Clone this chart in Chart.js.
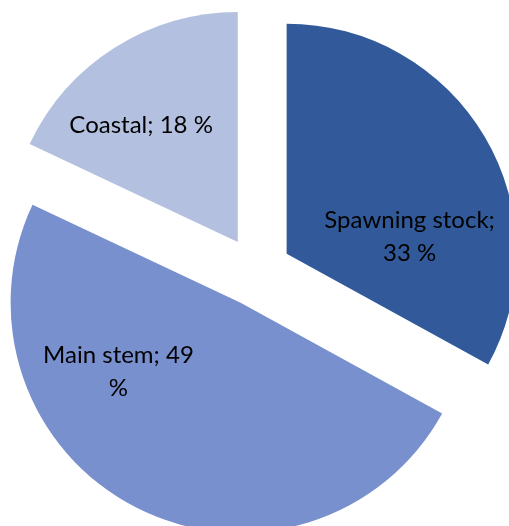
<!DOCTYPE html>
<html>
<head>
<meta charset="utf-8">
<script src="https://cdn.jsdelivr.net/npm/chart.js@4/dist/chart.umd.min.js"></script>
<style>
  html, body { margin: 0; padding: 0; background: #ffffff; overflow: hidden; }
  #wrap { position: relative; width: 509px; height: 526px; }
</style>
</head>
<body>
<div id="wrap"><canvas id="c"></canvas></div>
<script>
// ---- data ----
const categories = ['Spawning stock', 'Main stem', 'Coastal'];
const shares = [33, 49, 18];          // percent
const unit = '%';

// ---- styles ----
const sliceColors = ['#325A9A', '#7990CE', '#B4C0E0'];
const explodeDist = 35;               // px each slice is pulled out
const labelFont = '24px Lato';
const labelLineHeight = 33;
const labelWrapWidth = [190, 162, 400];   // text box width per slice
const labelAngleFrac = [0.69, 0.69, 0.39]; // position across the slice
const labelRadiusFrac = [0.54, 0.61, 0.66];

function labelText(i) {
  return categories[i] + '; ' + shares[i] + ' ' + unit;
}

function wrap(ctx, text, maxW) {
  const words = text.split(' ');
  const lines = [];
  let cur = '';
  for (const w of words) {
    const t = cur ? cur + ' ' + w : w;
    if (cur && ctx.measureText(t).width > maxW) { lines.push(cur); cur = w; }
    else cur = t;
  }
  if (cur) lines.push(cur);
  return lines;
}

const explodePlugin = {
  id: 'explode',
  beforeDatasetsDraw(chart) {
    const a = chart.chartArea;
    const cx = (a.left + a.right) / 2, cy = (a.top + a.bottom) / 2;
    chart.getDatasetMeta(0).data.forEach(arc => {
      const mid = (arc.startAngle + arc.endAngle) / 2;
      arc.x = cx + explodeDist * Math.cos(mid);
      arc.y = cy + explodeDist * Math.sin(mid);
    });
  },
  afterDatasetsDraw(chart) {
    const ctx = chart.ctx;
    ctx.save();
    ctx.font = labelFont;
    ctx.fillStyle = '#000000';
    ctx.textAlign = 'center';
    ctx.textBaseline = 'middle';
    chart.getDatasetMeta(0).data.forEach((arc, i) => {
      const ang = arc.startAngle + (arc.endAngle - arc.startAngle) * labelAngleFrac[i];
      const r = arc.outerRadius * labelRadiusFrac[i];
      const x = arc.x + r * Math.cos(ang);
      const y = arc.y + r * Math.sin(ang);
      const lines = wrap(ctx, labelText(i), labelWrapWidth[i]);
      const y0 = y - (lines.length - 1) * labelLineHeight / 2;
      lines.forEach((ln, k) => ctx.fillText(ln, x, y0 + k * labelLineHeight));
    });
    ctx.restore();
  }
};

new Chart(document.getElementById('c'), {
  type: 'pie',
  data: {
    labels: categories,
    datasets: [{
      data: shares,
      backgroundColor: sliceColors,
      borderWidth: 0,
      clip: false
    }]
  },
  options: {
    responsive: true,
    maintainAspectRatio: false,
    animation: false,
    radius: 230,
    layout: { padding: { left: 4, top: 17, right: 0, bottom: 0 } },
    plugins: { legend: { display: false }, tooltip: { enabled: false } },
    events: []
  },
  plugins: [explodePlugin]
});
</script>
</body>
</html>
